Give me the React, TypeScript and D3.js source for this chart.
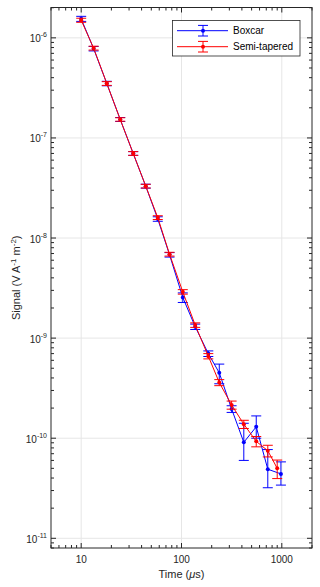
import React from "react";
import * as d3 from "d3";

// ---- data ----
const boxcarTime = [10, 13.3, 18, 24.5, 33, 44, 58, 76, 103, 137, 185, 238, 316, 418, 556, 725, 980];
const boxcarSignal = [1.55e-6, 7.8e-7, 3.5e-7, 1.53e-7, 7.0e-8, 3.3e-8, 1.55e-8, 6.8e-9, 2.55e-9, 1.3e-9, 7.0e-10, 4.5e-10, 1.96e-10, 9.1e-11, 1.3e-10, 4.9e-11, 4.4e-11];
const boxcarErrLow = [0.09e-6, 0.4e-7, 0.18e-7, 0.07e-7, 0.3e-8, 0.15e-8, 0.08e-8, 0.35e-9, 0.28e-9, 0.08e-9, 0.45e-10, 1.0e-10, 0.15e-10, 3.1e-11, 0.3e-10, 1.7e-11, 1.0e-11];
const boxcarErrHigh = [0.09e-6, 0.4e-7, 0.18e-7, 0.07e-7, 0.3e-8, 0.15e-8, 0.08e-8, 0.35e-9, 0.28e-9, 0.08e-9, 0.45e-10, 1.0e-10, 0.15e-10, 5.0e-11, 0.37e-10, 2.8e-11, 1.4e-11];

const semiTime = [10, 13.3, 18, 24.5, 33, 44, 58, 76, 103, 137, 185, 238, 316, 418, 556, 725, 900];
const semiSignal = [1.5e-6, 7.9e-7, 3.5e-7, 1.53e-7, 7.0e-8, 3.3e-8, 1.6e-8, 6.9e-9, 2.9e-9, 1.35e-9, 6.6e-10, 3.6e-10, 2.15e-10, 1.38e-10, 9.3e-11, 7.5e-11, 5.0e-11];
const semiErr = [0.07e-6, 0.35e-7, 0.15e-7, 0.06e-7, 0.3e-8, 0.14e-8, 0.07e-8, 0.3e-9, 0.15e-9, 0.07e-9, 0.4e-10, 0.25e-10, 0.2e-10, 0.13e-10, 1.1e-11, 1.0e-11, 1.05e-11];

const xTickValues = [10, 100, 1000];
const xTickLabels = ["10", "100", "1000"];
const yTickExponents = [-11, -10, -9, -8, -7, -6];
const legendLabels = ["Boxcar", "Semi-tapered"];
const seriesColors = ["#0000ff", "#ff0000"];

const W = 320;
const H = 587;
const L = 51;
const R = 312;
const T = 7.5;
const B = 548;
const FONT = "'Liberation Sans', Arial, Helvetica, sans-serif";
const AX = "#262626";

export default function App() {
  const x = d3.scaleLog().domain([5, 2000]).range([L, R]);
  const y = d3.scaleLog().domain([8e-12, 2.01e-6]).range([B, T]);

  const xMinor: number[] = [];
  [1, 10, 100, 1000].forEach((d) => {
    for (let m = 2; m <= 9; m++) {
      const v = m * d;
      if (v >= 5 && v <= 2000 && !xTickValues.includes(v)) xMinor.push(v);
    }
  });
  const yMinor: number[] = [];
  for (let k = -12; k <= -6; k++) {
    for (let m = 2; m <= 9; m++) {
      const v = m * Math.pow(10, k);
      if (v >= 8e-12 && v <= 2.01e-6) yMinor.push(v);
    }
  }
  const yMajor = yTickExponents.map((e) => Math.pow(10, e));

  const line = d3
    .line<[number, number]>()
    .x((d) => x(d[0]))
    .y((d) => y(d[1]));

  const series = [
    {
      t: boxcarTime,
      v: boxcarSignal,
      lo: boxcarErrLow,
      hi: boxcarErrHigh,
      color: seriesColors[0],
    },
    {
      t: semiTime,
      v: semiSignal,
      lo: semiErr,
      hi: semiErr,
      color: seriesColors[1],
    },
  ];

  const cap = 5;
  const majLen = 5;
  const minLen = 3;

  return (
    <div style={{ position: "absolute", left: 0, top: 0 }}>
      <svg width={W} height={H} style={{ display: "block", background: "#fff" }} fontFamily={FONT}>
        <rect x={0} y={0} width={W} height={H} fill="#fff" />
        <rect x={L} y={T} width={R - L} height={B - T} fill="#fff" />
        {/* grid */}
        <g stroke="#e6e6e6" strokeWidth={1}>
          {xTickValues.map((v) => (
            <line key={"gx" + v} x1={x(v)} x2={x(v)} y1={T} y2={B} />
          ))}
          {yMajor.map((v) => (
            <line key={"gy" + v} x1={L} x2={R} y1={y(v)} y2={y(v)} />
          ))}
        </g>
        {/* series */}
        {series.map((s, si) => (
          <g key={"s" + si} stroke={s.color} fill="none" strokeWidth={1}>
            {s.t.map((t, i) => {
              const cx = x(t);
              const y1 = y(s.v[i] - s.lo[i]);
              const y2 = y(s.v[i] + s.hi[i]);
              return (
                <g key={i}>
                  <line x1={cx} x2={cx} y1={y1} y2={y2} />
                  <line x1={cx - cap} x2={cx + cap} y1={y1} y2={y1} />
                  <line x1={cx - cap} x2={cx + cap} y1={y2} y2={y2} />
                </g>
              );
            })}
            <path d={line(s.t.map((t, i) => [t, s.v[i]] as [number, number])) || ""} />
            {s.t.map((t, i) => (
              <circle key={"c" + i} cx={x(t)} cy={y(s.v[i])} r={2} fill={s.color} stroke="none" />
            ))}
          </g>
        ))}
        {/* ticks */}
        <g stroke={AX} strokeWidth={1}>
          {xTickValues.map((v) => (
            <g key={"xt" + v}>
              <line x1={x(v)} x2={x(v)} y1={B} y2={B - majLen} />
              <line x1={x(v)} x2={x(v)} y1={T} y2={T + majLen} />
            </g>
          ))}
          {xMinor.map((v) => (
            <g key={"xm" + v}>
              <line x1={x(v)} x2={x(v)} y1={B} y2={B - minLen} />
              <line x1={x(v)} x2={x(v)} y1={T} y2={T + minLen} />
            </g>
          ))}
          {yMajor.map((v) => (
            <g key={"yt" + v}>
              <line x1={L} x2={L + majLen} y1={y(v)} y2={y(v)} />
              <line x1={R} x2={R - majLen} y1={y(v)} y2={y(v)} />
            </g>
          ))}
          {yMinor.map((v) => (
            <g key={"ym" + v}>
              <line x1={L} x2={L + minLen} y1={y(v)} y2={y(v)} />
              <line x1={R} x2={R - minLen} y1={y(v)} y2={y(v)} />
            </g>
          ))}
        </g>
        {/* box */}
        <rect x={L} y={T} width={R - L} height={B - T} fill="none" stroke={AX} strokeWidth={1} />
        {/* tick labels */}
        <g fill={AX} fontSize={10}>
          {xTickValues.map((v, i) => (
            <text key={"xl" + v} x={x(v)} y={563} textAnchor="middle">
              {xTickLabels[i]}
            </text>
          ))}
          {yTickExponents.map((e) => (
            <text key={"yl" + e} x={47} y={y(Math.pow(10, e)) + 4.5} textAnchor="end">
              <tspan>10</tspan>
              <tspan dy={-5} fontSize={7}>
                {String(e)}
              </tspan>
            </text>
          ))}
        </g>
        {/* axis labels */}
        <text x={(L + R) / 2} y={578} textAnchor="middle" fontSize={11} fill={AX}>
          Time (<tspan fontStyle="italic">μ</tspan>s)
        </text>
        <text
          transform={`translate(20,${(T + B) / 2}) rotate(-90)`}
          textAnchor="middle"
          fontSize={11}
          fill={AX}
        >
          <tspan>Signal (V A</tspan>
          <tspan dy={-4} fontSize={8}>-1</tspan>
          <tspan dy={4}> m</tspan>
          <tspan dy={-4} fontSize={8}>-2</tspan>
          <tspan dy={4}>)</tspan>
        </text>
        {/* legend */}
        <g>
          <rect x={172.5} y={20.5} width={127.5} height={35.5} fill="#fff" stroke={AX} strokeWidth={0.8} />
          {legendLabels.map((lab, i) => {
            const ly = 30.7 + i * 16;
            const c = seriesColors[i];
            return (
              <g key={lab}>
                <line x1={177} x2={228} y1={ly} y2={ly} stroke={c} strokeWidth={1} />
                <line x1={203} x2={203} y1={ly - 5.3} y2={ly + 5.3} stroke={c} strokeWidth={1} />
                <line x1={198} x2={208} y1={ly - 5.3} y2={ly - 5.3} stroke={c} strokeWidth={1} />
                <line x1={198} x2={208} y1={ly + 5.3} y2={ly + 5.3} stroke={c} strokeWidth={1} />
                <circle cx={203} cy={ly} r={2} fill={c} />
                <text x={233} y={ly + 3.6} fontSize={10} fill="#000">
                  {lab}
                </text>
              </g>
            );
          })}
        </g>
      </svg>
    </div>
  );
}
